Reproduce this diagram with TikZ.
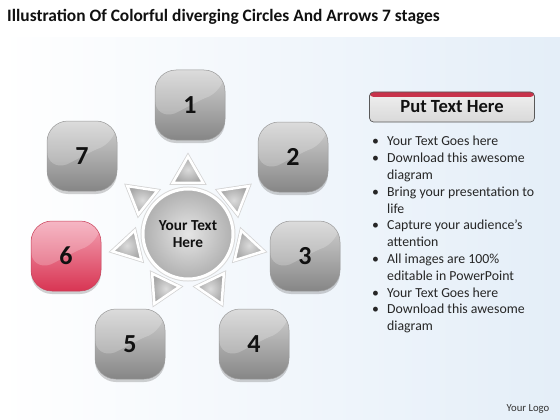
\documentclass[tikz,border=0pt]{standalone}
\usepackage{fontspec}
\setmainfont{Carlito}
\usetikzlibrary{shapes.geometric,shadows,calc}

\definecolor{tiletop}{HTML}{D2D2D2}
\definecolor{tilebot}{HTML}{868686}
\definecolor{tileedge}{HTML}{9A9A9A}
\definecolor{redtop}{HTML}{F4A3B4}
\definecolor{redbot}{HTML}{D83553}
\definecolor{rededge}{HTML}{C8415A}
\definecolor{numtext}{HTML}{111111}
\definecolor{bgright}{HTML}{E4EEF8}
\definecolor{btnred}{HTML}{C8324A}

\tikzset{
  tile/.style={rectangle, rounded corners=21pt, minimum width=70pt, minimum height=70pt,
    inner sep=0pt, top color=tiletop, bottom color=tilebot, draw=tileedge, line width=0.5pt,
    font=\fontsize{26}{26}\selectfont\bfseries, text=numtext,
    drop shadow={shadow xshift=0pt, shadow yshift=-3pt, opacity=0.3, fill=black!60},
    path picture={
      \fill[white, opacity=0.22] (path picture bounding box.north west)
        -- (path picture bounding box.north east)
        -- ($(path picture bounding box.north east)!0.32!(path picture bounding box.south east)$)
        .. controls ($(path picture bounding box.center)+(12pt,6pt)$) and ($(path picture bounding box.center)+(-14pt,-8pt)$)
        .. ($(path picture bounding box.north west)!0.72!(path picture bounding box.south west)$) -- cycle;
    }},
  redtile/.style={tile, top color=redtop, bottom color=redbot, draw=rededge},
  arrowtri/.style={regular polygon, regular polygon sides=3, minimum size=35pt, inner sep=0pt,
    inner color=gray!28, outer color=gray!68, draw=white, line width=2.5pt,
    preaction={draw=gray!35, line width=4pt}},
  hub/.style={circle, minimum size=90pt, inner sep=0pt, inner color=gray!20, outer color=gray!62,
    draw=white, line width=3pt, preaction={draw=gray!30, line width=5pt},
    font=\fontsize{15.3}{17.5}\selectfont\bfseries, text=numtext, align=center},
  headbtn/.style={rectangle, rounded corners=4pt, minimum width=165pt, minimum height=30pt,
    top color=gray!12, bottom color=gray!30, draw=gray!70!black, line width=0.7pt,
    font=\fontsize{18.6}{18.6}\selectfont\bfseries, text=numtext,
    path picture={\fill[btnred] (path picture bounding box.north west) rectangle
      ($(path picture bounding box.north east)+(0,-5pt)$);}}
}

\begin{document}
\begin{tikzpicture}[x=1pt,y=-1pt]
  \useasboundingbox (0,0) rectangle (560,420);
  % background
  \fill[white] (0,0) rectangle (560,420);
  \shade[left color=white, right color=bgright] (0,38) rectangle (560,420);

  % title
  \node[anchor=west, inner sep=0pt, font=\fontsize{17.4}{19}\selectfont\bfseries, text=numtext] (title) at (7,17)
    {Illustration Of Colorful diverging Circles And Arrows 7 stages};

  % centre
  \node[hub] (hub) at (188,234) {Your Text\\Here};

  % arrows
  \node[arrowtri, rotate=0] (a1) at (188,174) {};
  \node[arrowtri, rotate=-51.43] (a2) at (235,197) {};
  \node[arrowtri, rotate=-102.86] (a3) at (246.5,247.4) {};
  \node[arrowtri, rotate=-154.29] (a4) at (214,288) {};
  \node[arrowtri, rotate=154.29] (a5) at (162,288) {};
  \node[arrowtri, rotate=102.86] (a6) at (129.5,247.4) {};
  \node[arrowtri, rotate=51.43] (a7) at (141,197) {};

  % stages
  \node[tile] (s1) at (190,105) {1};
  \node[tile] (s2) at (293,157) {2};
  \node[tile] (s3) at (305,256) {3};
  \node[tile] (s4) at (254,344) {4};
  \node[tile] (s5) at (130,344) {5};
  \node[redtile] (s6) at (66,256) {6};
  \node[tile] (s7) at (82,156) {7};

  % text panel
  \node[headbtn] (head) at (452,107) {Put Text Here};
  \node[anchor=north west, inner sep=0pt, text=black!85, font=\fontsize{13.8}{16.8}\selectfont] (list) at (372,134) {%
    \begin{tabular}{@{}p{15pt}@{}l@{}}
      \textbullet & Your Text Goes here\\
      \textbullet & Download this awesome\\
                  & diagram\\
      \textbullet & Bring your presentation to\\
                  & life\\
      \textbullet & Capture your audience’s\\
                  & attention\\
      \textbullet & All images are 100\%\\
                  & editable in PowerPoint\\
      \textbullet & Your Text Goes here\\
      \textbullet & Download this awesome\\
                  & diagram
    \end{tabular}};

  \node[font=\fontsize{10.7}{12}\selectfont, text=black!80] (logo) at (528,409) {Your Logo};
\end{tikzpicture}
\end{document}
